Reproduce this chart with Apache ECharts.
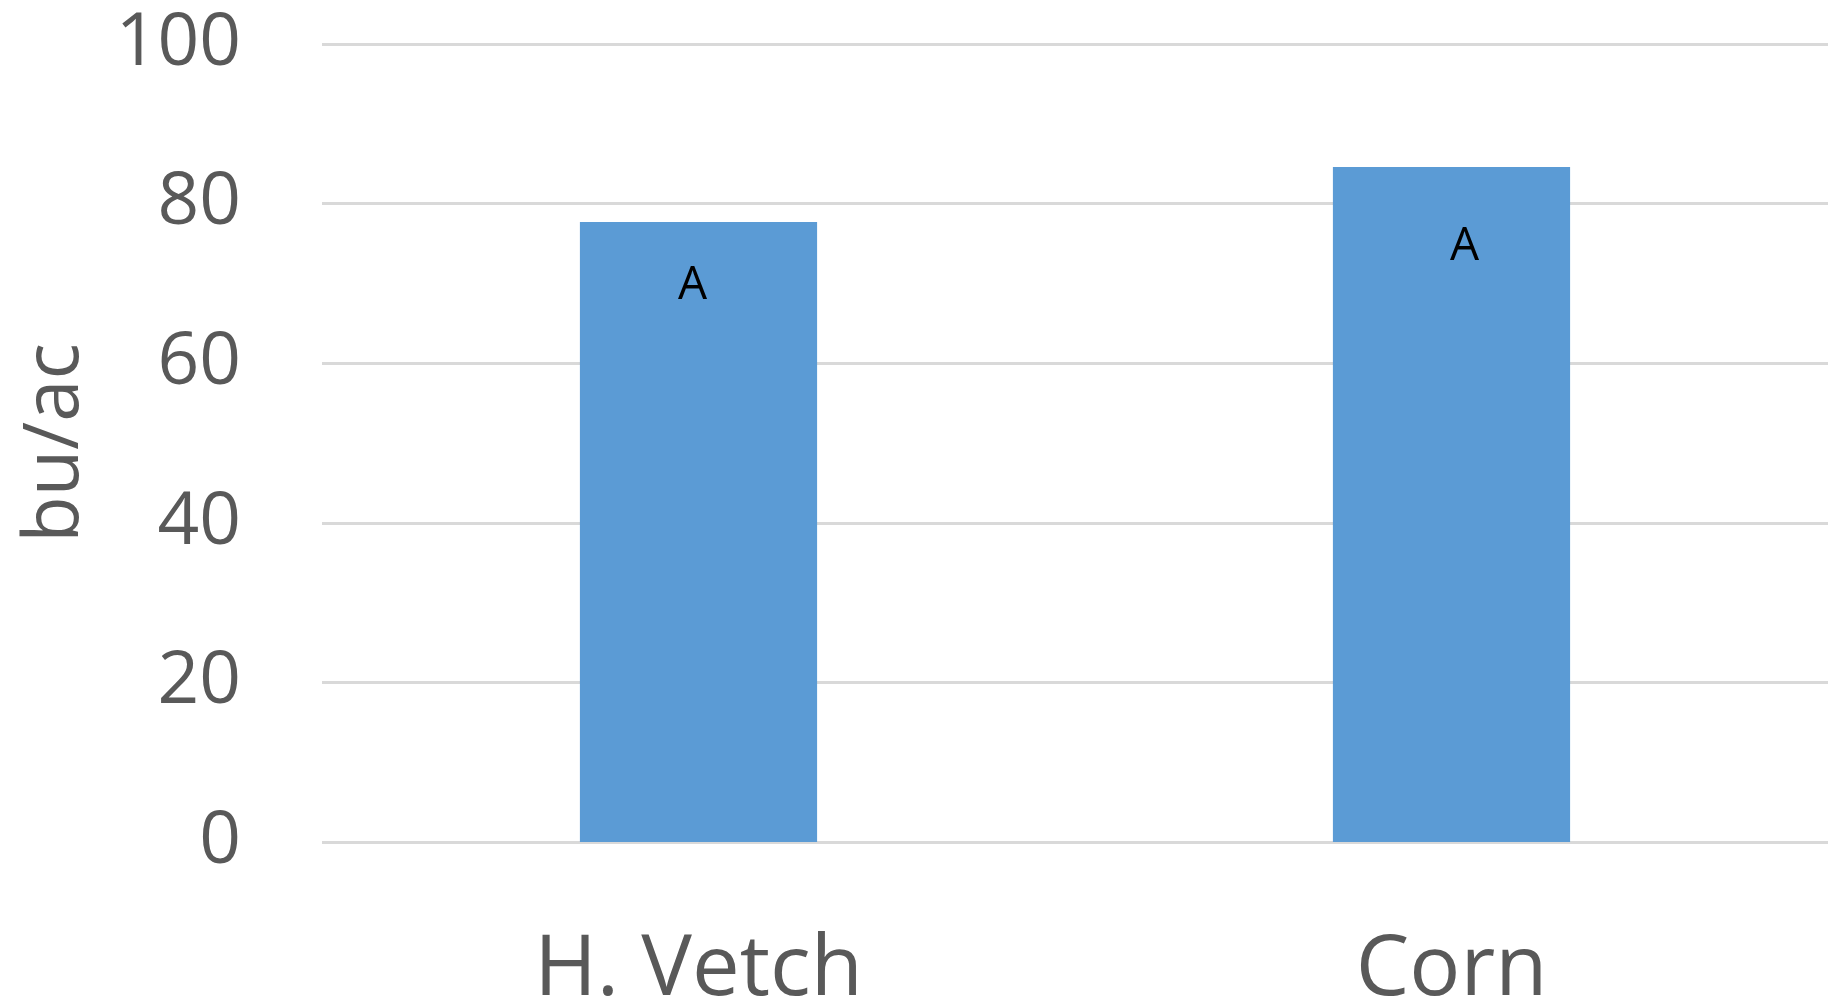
<!DOCTYPE html>
<html>
<head>
<meta charset="utf-8">
<style>
  html, body { margin: 0; padding: 0; background: #ffffff; }
  #chart { width: 1841px; height: 1000px; }
</style>
<script src="https://cdn.jsdelivr.net/npm/echarts@6/dist/echarts.min.js"></script>
</head>
<body>
<div id="chart"></div>
<script>
// Yield by previous crop
const categories = ['H. Vetch', 'Corn'];
const yieldValues = [77.7, 84.6];
const groupLetters = ['A', 'A'];
const yTicks = [0, 20, 40, 60, 80, 100];

// Letter placement inside each bar (pixel nudges from the bar top)
const letterOffsets = [[-6, 41], [13, 57]];

const chart = echarts.init(document.getElementById('chart'), null, { renderer: 'canvas' });

const axisFont = '"Open Sans", "Liberation Sans", sans-serif';

chart.setOption({
  animation: false,
  backgroundColor: '#ffffff',
  grid: {
    left: 322, right: 13, top: 44, bottom: 158,
    containLabel: false,
    outerBoundsMode: 'none'
  },
  xAxis: {
    type: 'category',
    data: categories,
    axisLine: { show: false },
    axisTick: { show: false },
    axisLabel: {
      color: '#595959',
      fontFamily: axisFont,
      fontSize: 85,
      margin: 86
    }
  },
  yAxis: {
    type: 'value',
    min: yTicks[0],
    max: yTicks[yTicks.length - 1],
    interval: yTicks[1] - yTicks[0],
    name: 'bu/ac',
    nameLocation: 'middle',
    nameGap: 228,
    nameRotate: 90,
    nameTextStyle: {
      color: '#595959',
      fontFamily: axisFont,
      fontSize: 76
    },
    axisLine: { show: false },
    axisTick: { show: false },
    axisLabel: {
      color: '#595959',
      fontFamily: axisFont,
      fontSize: 73,
      margin: 81,
      padding: [16, 0, 0, 0]
    },
    splitLine: { lineStyle: { color: '#d9d9d9', width: 3 } }
  },
  series: [{
    type: 'bar',
    barWidth: '31.5%',
    itemStyle: { color: '#5b9bd5' },
    data: yieldValues.map((v, i) => ({
      value: v,
      label: {
        show: true,
        position: 'insideTop',
        distance: 0,
        offset: letterOffsets[i],
        formatter: groupLetters[i],
        color: '#000000',
        fontFamily: axisFont,
        fontSize: 46
      }
    }))
  }]
});
</script>
</body>
</html>
